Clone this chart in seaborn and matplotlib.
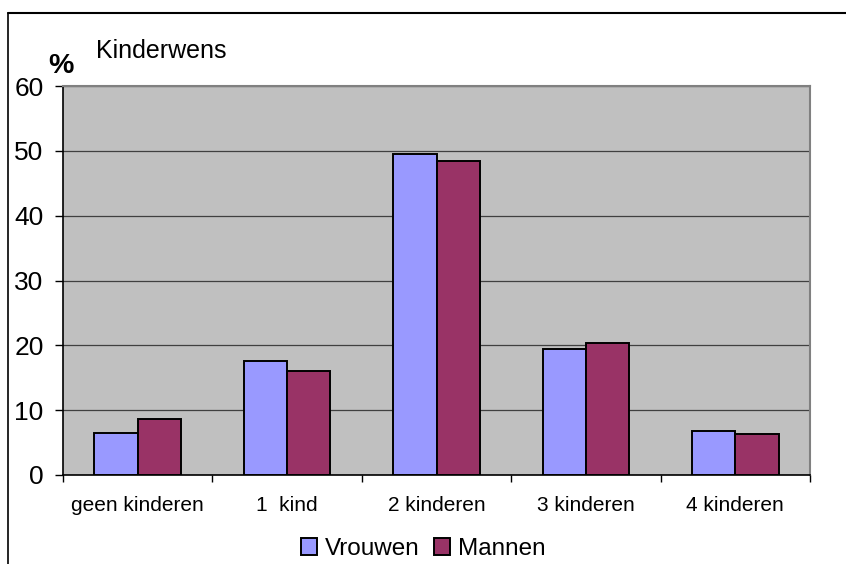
import numpy as np
import pandas as pd
import seaborn as sns
import matplotlib.pyplot as plt
from matplotlib.lines import Line2D

# values
categories = ['geen kinderen', '1  kind', '2 kinderen', '3 kinderen', '4 kinderen']
vrouwen = [6.5, 17.6, 49.5, 19.4, 6.8]
mannen = [8.6, 16.0, 48.5, 20.4, 6.3]
series = ['Vrouwen', 'Mannen']
yticks = [0, 10, 20, 30, 40, 50, 60]

df = pd.DataFrame({
    'cat': categories * 2,
    'val': vrouwen + mannen,
    'sex': [series[0]] * 5 + [series[1]] * 5,
})

sns.set_style('white')
plt.rcParams['font.family'] = ['Liberation Sans', 'DejaVu Sans']
plt.rcParams['text.color'] = 'black'
plt.rcParams['xtick.color'] = 'black'
plt.rcParams['ytick.color'] = 'black'

W, H = 846, 564
fig = plt.figure(figsize=(W / 100, H / 100), dpi=100)
ax = fig.add_axes([63 / W, 89 / H, 747 / W, 389 / H])
ax.set_facecolor('#c0c0c0')

sns.barplot(data=df, x='cat', y='val', hue='sex', palette=['#9999ff', '#993366'],
            width=0.58, edgecolor='black', linewidth=1.4, saturation=1, ax=ax, zorder=3)

ax.set_xlim(-0.5, 4.5)
ax.set_ylim(0, 60)
ax.set_yticks(yticks)
ax.set_xlabel('')
ax.set_ylabel('')
ax.yaxis.grid(True, color='#404040', lw=0.9, zorder=1)
ax.set_axisbelow(True)

ax.tick_params(axis='y', labelsize=19, length=6, width=1, color='black', pad=8, left=True,
               labelcolor='black')
ax.tick_params(axis='x', which='major', labelsize=15, length=0, pad=15, labelcolor='black')
ax.set_xticks(np.arange(-0.5, 5, 1), minor=True)
ax.tick_params(axis='x', which='minor', length=5, width=1, color='black', bottom=True)

for s in ['left', 'bottom']:
    ax.spines[s].set_color('black')
    ax.spines[s].set_linewidth(1.2)
for s in ['top', 'right']:
    ax.spines[s].set_color('#808080')
    ax.spines[s].set_linewidth(1.5)

leg = ax.legend(loc='center', bbox_to_anchor=(423 / W, 1 - 549 / H),
                bbox_transform=fig.transFigure, ncol=2, frameon=False,
                fontsize=17.5, handlelength=0.68, handleheight=0.68,
                handletextpad=0.3, columnspacing=0.6, borderpad=0)

fig.text(96 / W, 1 - 58 / H, 'Kinderwens', fontsize=18, va='baseline', ha='left')
fig.text(48 / W, 1 - 73 / H, '%', fontsize=20.5, fontweight='bold', va='baseline', ha='left')

# outer chart border (cut off by image at right and bottom)
fig.add_artist(Line2D([8 / W, 8 / W], [0, 1 - 13 / H], color='black', lw=1.2,
                      transform=fig.transFigure))
fig.add_artist(Line2D([8 / W, 1], [1 - 13 / H, 1 - 13 / H], color='black', lw=1.5,
                      transform=fig.transFigure))

fig.savefig('out.png', dpi=100)
